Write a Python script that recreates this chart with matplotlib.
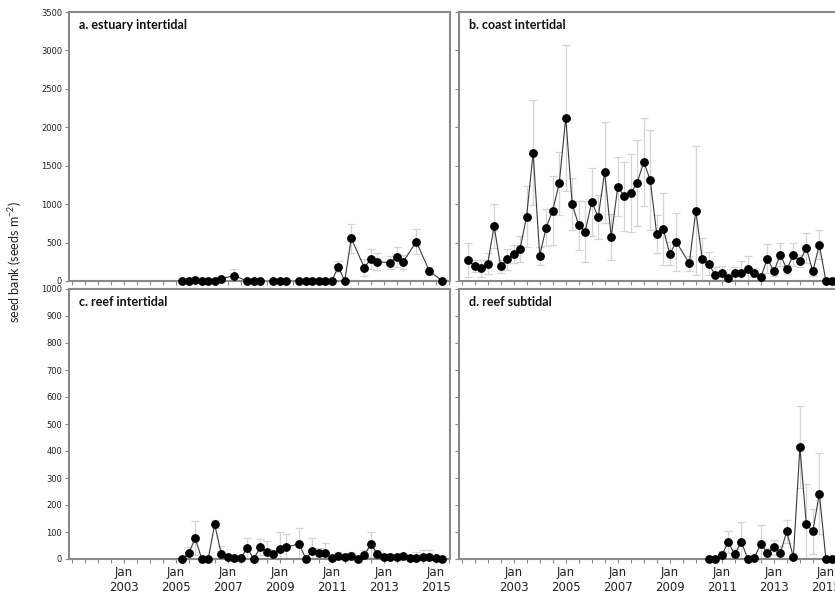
import numpy as np
import pandas as pd
import matplotlib.pyplot as plt
import matplotlib.dates as mdates
from datetime import datetime

plt.rcParams['font.family'] = ['Lato', 'DejaVu Sans']
plt.rcParams['mathtext.default'] = 'regular'

nan = np.nan

# seed bank (seeds m-2), quarterly sampling, nan = no sample
estuary = [0, 0, 15, 0, 0, 0, 30, nan, 70, nan, 0, 0, 0, nan, 0, 0, 0, nan, 0, 0,
           0, 0, 0, 0, 187, 0, 557, nan, 174, 287, 248, nan, 240, 313, 252, nan,
           513, nan, 130, nan, 0]
estuary_se = [0, 0, 5, 0, 0, 0, 10, nan, 80, nan, 0, 0, 0, nan, 0, 0, 0, nan, 0, 0,
              0, 0, 0, 0, 75, 0, 190, nan, 110, 125, 110, nan, 80, 135, 90, nan,
              165, nan, 50, nan, 0]

coast = [274, 191, 165, 226, 717, 191, 283, 348, 422, 839, 1670, 330, 696, 917,
         1270, 2126, 1000, 726, 643, 1030, 830, 1417, 574, 1226, 1104, 1143, 1278,
         1552, 1313, 609, 674, 352, 509, nan, 230, 913, 283, 222, 78, 100, 39, 100,
         100, 161, 109, 48, 291, 126, 343, 152, 339, 257, 430, 126, 470, 0, 0]
coast_se = [226, 80, 110, 135, 290, 83, 134, 120, 170, 400, 680, 118, 240, 450,
            410, 950, 340, 320, 395, 440, 290, 657, 300, 383, 450, 505, 560,
            574, 648, 250, 470, 150, 374, nan, 100, 840, 274, 150, 110, 90, 60, 87,
            160, 170, 60, 40, 190, 60, 150, 60, 150, 80, 200, 60, 190, 0, 0]

reef = [0, 21, 77, 0, 0, 128, 20, 7, 5, 2, 41, 0, 44, 26, 19, 38, 44, nan, 56, 0,
        31, 21, 21, 4, 11, 9, 11, 0, 15, 54, 20, 9, 9, 6, 11, 2, 5, 7, 7, 2, 0]
reef_se = [0, 25, 64, 0, 0, 15, 27, 5, 5, 3, 36, 0, 29, 40, 15, 62, 50, nan, 60, 0,
           46, 20, 40, 5, 15, 10, 15, 0, 20, 45, 15, 8, 8, 5, 10, 3, 20, 25, 28, 3, 0]

subtidal = [0, 0, 16, 62, 17, 64, 0, 5, 56, 21, 43, 22, 102, 6, 415, 128, 102, 242, 0, 0]
subtidal_se = [0, 0, 15, 40, 20, 73, 0, 5, 69, 20, 29, 25, 44, 8, 153, 149, 83, 151, 0, 0]

estuary_dates = pd.date_range('2005-04-01', periods=len(estuary), freq='3MS')
coast_dates = pd.date_range('2001-04-01', periods=len(coast), freq='3MS')
reef_dates = pd.date_range('2005-04-01', periods=len(reef), freq='3MS')
subtidal_dates = pd.date_range('2010-07-01', periods=len(subtidal), freq='3MS')

titles = ['a. estuary intertidal', 'b. coast intertidal', 'c. reef intertidal', 'd. reef subtidal']

frame = '#8a8a8a'


def date_label(x, pos):
    d = mdates.num2date(x)
    if d.month == 1 and d.year % 2 == 1 and d.year >= 2003:
        return 'Jan\n%d' % d.year
    return ''


def panel(ax, dates, vals, errs, title):
    vals = np.array(vals, dtype=float)
    errs = np.array(errs, dtype=float)
    ok = ~np.isnan(vals)
    d = dates[ok]
    ax.errorbar(d, vals[ok], yerr=errs[ok], fmt='none', ecolor='#d4d4d4',
                elinewidth=0.9, capsize=3, capthick=0.9, zorder=1)
    ax.plot(d, vals[ok], '-', color='#3a3a3a', lw=0.8, zorder=2)
    ax.plot(d, vals[ok], 'o', color='black', ms=5.3, clip_on=False, zorder=3)
    ax.text(0.026, 0.974, title, transform=ax.transAxes, fontweight='bold',
            fontsize=9, va='top', ha='left', color='#111111')
    ax.set_xlim(datetime(2000, 11, 24), datetime(2015, 7, 18))
    ax.xaxis.set_major_locator(mdates.MonthLocator(bymonth=[1, 7]))
    ax.xaxis.set_major_formatter(plt.FuncFormatter(date_label))
    for s in ax.spines.values():
        s.set_color(frame)
        s.set_linewidth(1.5)
    ax.tick_params(direction='out', length=3, width=0.8, color=frame,
                   labelcolor='#222222')
    ax.tick_params(axis='x', labelsize=8.5, pad=2,
                   labelfontfamily='Liberation Sans Narrow')
    ax.tick_params(axis='y', labelsize=6, pad=2,
                   labelfontfamily='Liberation Sans Narrow')


fig = plt.figure(figsize=(8.35, 5.96), dpi=100)
W = 381 / 835
ax_a = fig.add_axes([69 / 835, 1 - 281 / 596, W, 269 / 596])
ax_b = fig.add_axes([459 / 835, 1 - 281 / 596, W, 269 / 596])
ax_c = fig.add_axes([69 / 835, 1 - 559 / 596, W, 270 / 596])
ax_d = fig.add_axes([459 / 835, 1 - 559 / 596, W, 270 / 596])

panel(ax_a, estuary_dates, estuary, estuary_se, titles[0])
panel(ax_b, coast_dates, coast, coast_se, titles[1])
panel(ax_c, reef_dates, reef, reef_se, titles[2])
panel(ax_d, subtidal_dates, subtidal, subtidal_se, titles[3])

for ax in (ax_a, ax_b):
    ax.set_ylim(0, 3500)
    ax.set_yticks(np.arange(0, 3501, 500))
    ax.tick_params(axis='x', labelbottom=False)
for ax in (ax_c, ax_d):
    ax.set_ylim(0, 1000)
    ax.set_yticks(np.arange(0, 1001, 100))
for ax in (ax_b, ax_d):
    ax.tick_params(axis='y', labelleft=False)

fig.text(0.018, 0.56, 'seed bank (seeds m$^{-2}$)', rotation=90, va='center',
         ha='center', fontsize=9, color='#222222')

fig.savefig('out.png', dpi=100)
